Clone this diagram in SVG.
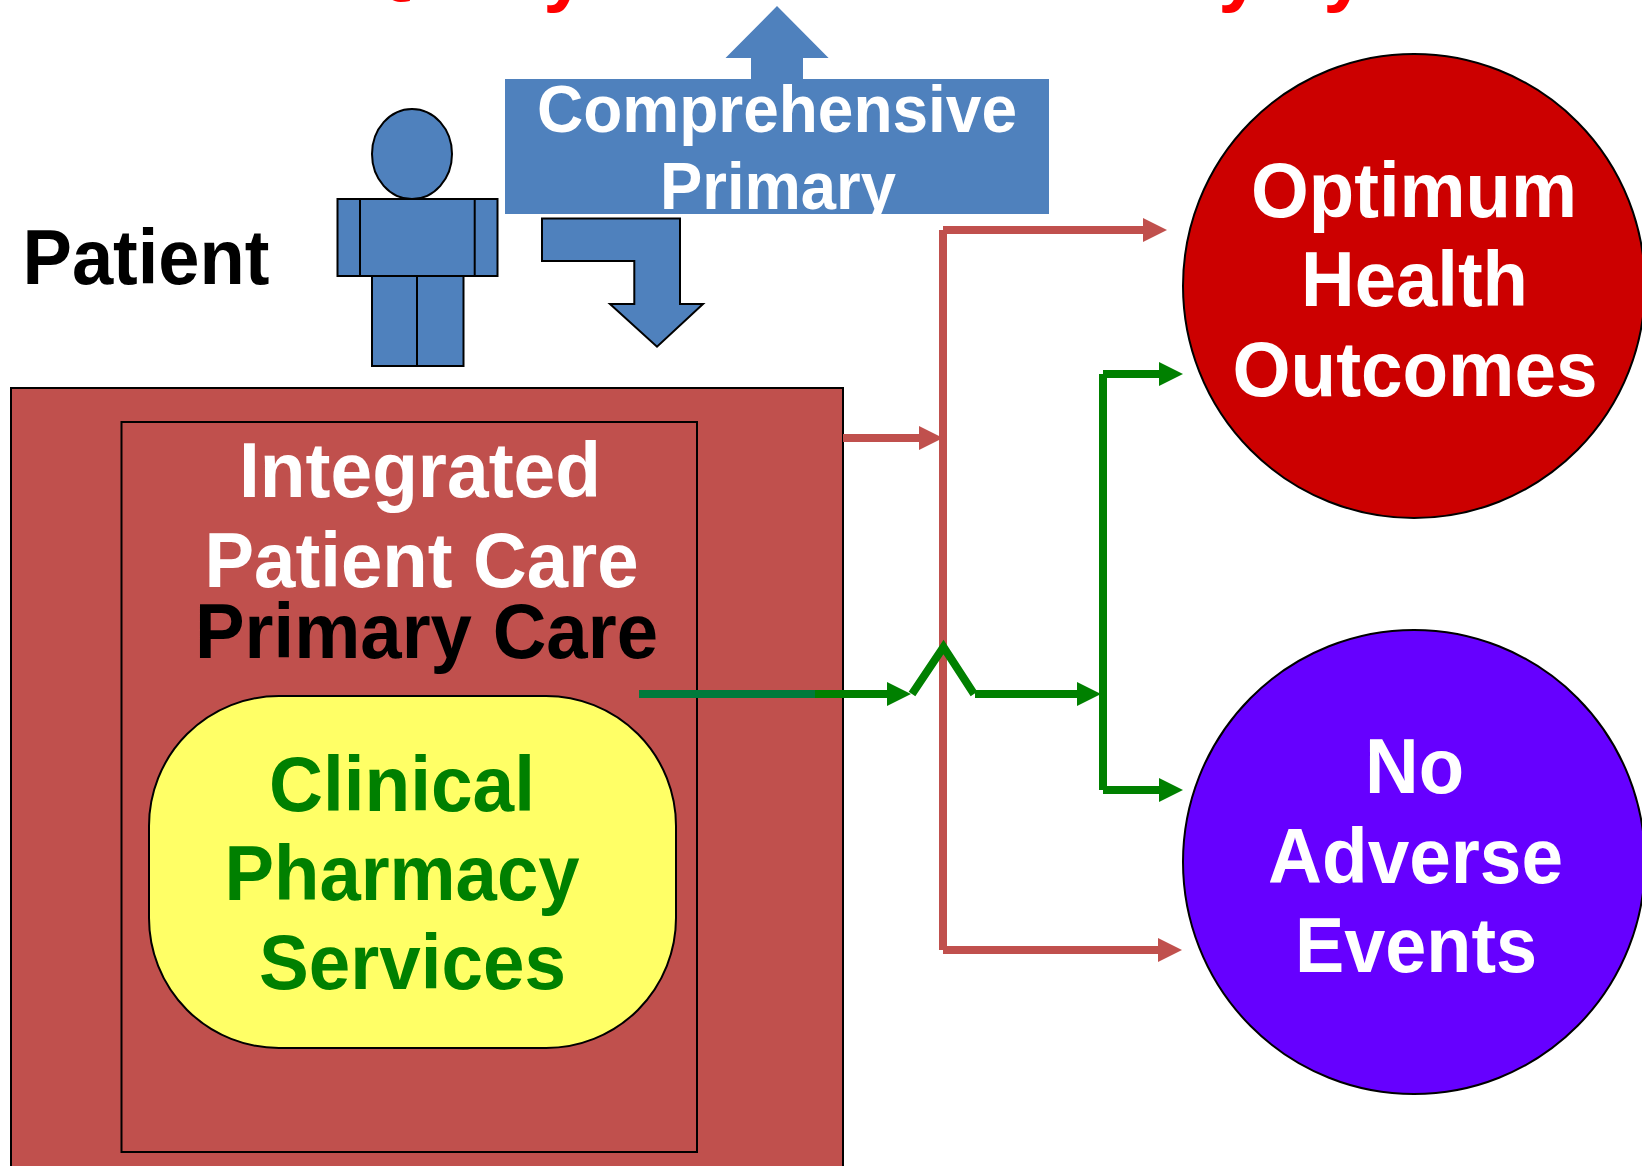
<svg xmlns="http://www.w3.org/2000/svg" width="1642" height="1166" viewBox="0 0 1642 1166">
<style>
text{font-family:"Liberation Sans",Arial,sans-serif;font-weight:700;font-size:78px;text-anchor:middle}
.w{fill:#fff}.k{fill:#000}.g{fill:#008000}.r{fill:#f00}
.s{font-size:66px}
.b{fill:#4F81BD;stroke:#000;stroke-width:2}
.red{fill:none;stroke:#C0504D;stroke-width:8}
.grn{fill:none;stroke:#008000;stroke-width:8}
</style>
<defs>
<marker id="ar" markerUnits="userSpaceOnUse" markerWidth="24" markerHeight="24" refX="2" refY="12" orient="auto"><path d="M0 0L24 12L0 24Z" fill="#C0504D"/></marker>
<marker id="ag" markerUnits="userSpaceOnUse" markerWidth="24" markerHeight="24" refX="2" refY="12" orient="auto"><path d="M0 0L24 12L0 24Z" fill="#008000"/></marker>
</defs>
<g id="top-text">
<text class="r" x="388" y="-13">Q</text>
<text class="r" x="565" y="-3">y</text>
<text class="r" x="1240" y="-3">y</text>
<text class="r" x="1345" y="-3">y</text>
</g>
<g id="patient-label"><text class="k" x="146" y="284" textLength="247" lengthAdjust="spacingAndGlyphs">Patient</text></g>
<g id="patient-figure">
<ellipse class="b" cx="412" cy="154" rx="40" ry="45"/>
<rect class="b" x="337.500" y="199" width="160" height="77"/>
<path class="b" d="M360 199V276M474.700 199V276"/>
<rect class="b" x="372" y="276" width="91.500" height="90"/>
<path class="b" d="M417 276V366"/>
</g>
<g id="comprehensive-primary">
<path d="M777 6L828.600 58H803V79H1049V214H505V79H751V58H725.500Z" fill="#4F81BD"/>
<text class="w s" x="777" y="132" textLength="480" lengthAdjust="spacingAndGlyphs">Comprehensive</text>
<text class="w s" x="778" y="209" textLength="236" lengthAdjust="spacingAndGlyphs">Primary</text>
</g>
<g id="down-arrow"><path class="b" d="M542 218.500H680V304H703L657 346.700L610 304H634.300V261H542Z"/></g>
<g id="integrated-care">
<rect x="11" y="388" width="832" height="800" fill="#C0504D" stroke="#000" stroke-width="2"/>
<rect x="121.500" y="422" width="575.500" height="730" fill="#C0504D" stroke="#000" stroke-width="2"/>
<text class="w" x="420" y="497" textLength="362" lengthAdjust="spacingAndGlyphs">Integrated</text>
<text class="w" x="421.500" y="587" textLength="434" lengthAdjust="spacingAndGlyphs">Patient Care</text>
<text class="k" x="426.500" y="658" textLength="463" lengthAdjust="spacingAndGlyphs">Primary Care</text>
</g>
<g id="clinical-pharmacy">
<rect x="149" y="696" width="527" height="352" rx="130" ry="130" fill="#FFFF66" stroke="#000" stroke-width="2"/>
<text class="g" x="402" y="811" textLength="266" lengthAdjust="spacingAndGlyphs">Clinical</text>
<text class="g" x="402" y="900" textLength="355" lengthAdjust="spacingAndGlyphs">Pharmacy</text>
<text class="g" x="412.500" y="989" textLength="307" lengthAdjust="spacingAndGlyphs">Services</text>
</g>
<g id="optimum-health-outcomes">
<ellipse cx="1414" cy="286" rx="231" ry="232" fill="#CC0000" stroke="#000" stroke-width="2"/>
<text class="w" x="1414" y="216.500" textLength="326" lengthAdjust="spacingAndGlyphs">Optimum</text>
<text class="w" x="1414.500" y="306" textLength="227" lengthAdjust="spacingAndGlyphs">Health</text>
<text class="w" x="1415" y="396" textLength="365" lengthAdjust="spacingAndGlyphs">Outcomes</text>
</g>
<g id="no-adverse-events">
<ellipse cx="1414" cy="862" rx="231" ry="232" fill="#6600FF" stroke="#000" stroke-width="2"/>
<text class="w" x="1414.500" y="792.500" textLength="99" lengthAdjust="spacingAndGlyphs">No</text>
<text class="w" x="1415.500" y="882.500" textLength="295" lengthAdjust="spacingAndGlyphs">Adverse</text>
<text class="w" x="1416" y="971.500" textLength="242" lengthAdjust="spacingAndGlyphs">Events</text>
</g>
<g id="connectors">
<path class="red" d="M843 438H921" marker-end="url(#ar)"/>
<path class="red" d="M943 230V950"/>
<path class="red" d="M943 230H1145" marker-end="url(#ar)"/>
<path class="red" d="M943 950H1160" marker-end="url(#ar)"/>
<path d="M639 694H815" fill="none" stroke="#007A3C" stroke-width="8"/>
<path class="grn" d="M815 694H889" marker-end="url(#ag)"/>
<path d="M912 694L943.500 647L974 694" fill="none" stroke="#008000" stroke-width="8"/>
<path class="grn" d="M975 694H1079" marker-end="url(#ag)"/>
<path class="grn" d="M1103 374V790"/>
<path class="grn" d="M1103 374H1161" marker-end="url(#ag)"/>
<path class="grn" d="M1103 790H1161" marker-end="url(#ag)"/>
</g>
</svg>
